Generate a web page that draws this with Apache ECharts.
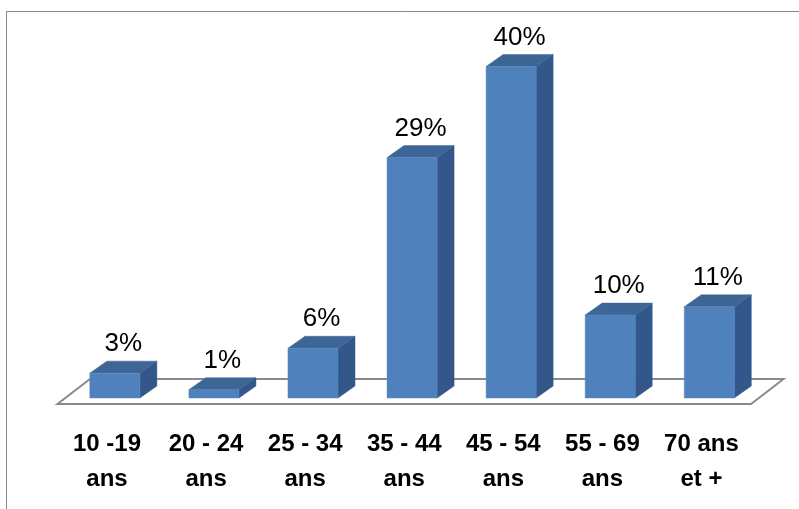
<!DOCTYPE html>
<html><head><meta charset="utf-8">
<script src="https://cdn.jsdelivr.net/npm/echarts@6/dist/echarts.min.js"></script>
<style>html,body{margin:0;padding:0;background:#fff}#c{width:799px;height:509px}</style>
</head><body><div id="c"></div>
<script>
const categories = ['10 -19\nans', '20 - 24\nans', '25 - 34\nans', '35 - 44\nans', '45 - 54\nans', '55 - 69\nans', '70 ans\net +'];
const values = [3, 1, 6, 29, 40, 10, 11];
const valueLabels = ['3%', '1%', '6%', '29%', '40%', '10%', '11%'];

const FLOOR_DX = 32.5, FLOOR_DY = -25, FRONT_T = 0.24;
const BAR_W_RATIO = 50 / 99, BAR_DX = 17, BAR_DY = -12;
const C_FRONT = '#4F81BD', C_TOP = '#3D6596', C_SIDE = '#33578A';

const chart = echarts.init(document.getElementById('c'), null, {renderer: 'canvas'});

function floorItem(params, api) {
  const cs = params.coordSys;
  const x0 = cs.x, y0 = cs.y + cs.height, x1 = cs.x + cs.width;
  return {
    type: 'polygon',
    shape: {points: [[x0, y0], [x1, y0], [x1 + FLOOR_DX, y0 + FLOOR_DY], [x0 + FLOOR_DX, y0 + FLOOR_DY]]},
    style: {fill: '#fff', stroke: '#8a8a8a', lineWidth: 2}
  };
}

function barItem(params, api) {
  const i = api.value(0), v = api.value(1);
  const base = api.coord([i, 0]);
  const top = api.coord([i, v]);
  const bw = api.size([1, 0])[0] * BAR_W_RATIO;
  const fx = base[0] + FLOOR_DX * FRONT_T - bw / 2;
  const fy = base[1] + FLOOR_DY * FRONT_T;
  const h = base[1] - top[1];
  const ty = fy - h;
  return {
    type: 'group',
    children: [
      {type: 'polygon', shape: {points: [[fx + bw, fy], [fx + bw, ty], [fx + bw + BAR_DX, ty + BAR_DY], [fx + bw + BAR_DX, fy + BAR_DY]]},
        style: {fill: C_SIDE, stroke: C_SIDE, lineWidth: 0.5}},
      {type: 'polygon', shape: {points: [[fx, ty], [fx + bw, ty], [fx + bw + BAR_DX, ty + BAR_DY], [fx + BAR_DX, ty + BAR_DY]]},
        style: {fill: C_TOP, stroke: C_TOP, lineWidth: 0.5}},
      {type: 'rect', shape: {x: fx, y: ty, width: bw, height: h},
        style: {fill: C_FRONT, stroke: '#5a8ac4', lineWidth: 0.5}},
      {type: 'text', x: fx + bw / 2 + BAR_DX / 2, y: ty + BAR_DY - 17,
        style: {text: valueLabels[i], fill: '#000', font: '26px "Liberation Sans", Arial, sans-serif', align: 'center', verticalAlign: 'middle'}}
    ]
  };
}

chart.setOption({
  animation: false,
  backgroundColor: '#fff',
  graphic: [{type: 'rect', shape: {x: 6.5, y: 11.5, width: 900, height: 600}, style: {fill: 'none', stroke: '#868686', lineWidth: 1}, z: -10}],
  grid: {left: 57.5, right: 48, top: 31, bottom: 105},
  xAxis: {
    type: 'category', data: categories,
    axisLine: {show: false}, axisTick: {show: false}, splitLine: {show: false},
    axisLabel: {interval: 0, color: '#000', fontWeight: 'bold', fontSize: 24, fontFamily: '"Liberation Sans", Arial, sans-serif', lineHeight: 35, margin: 23}
  },
  yAxis: {type: 'value', min: 0, max: 45, show: false},
  series: [
    {type: 'custom', renderItem: floorItem, data: [[0, 0]], z: 1, silent: true},
    {type: 'custom', renderItem: barItem, data: values.map((v, i) => [i, v]), z: 2}
  ]
});
</script></body></html>
